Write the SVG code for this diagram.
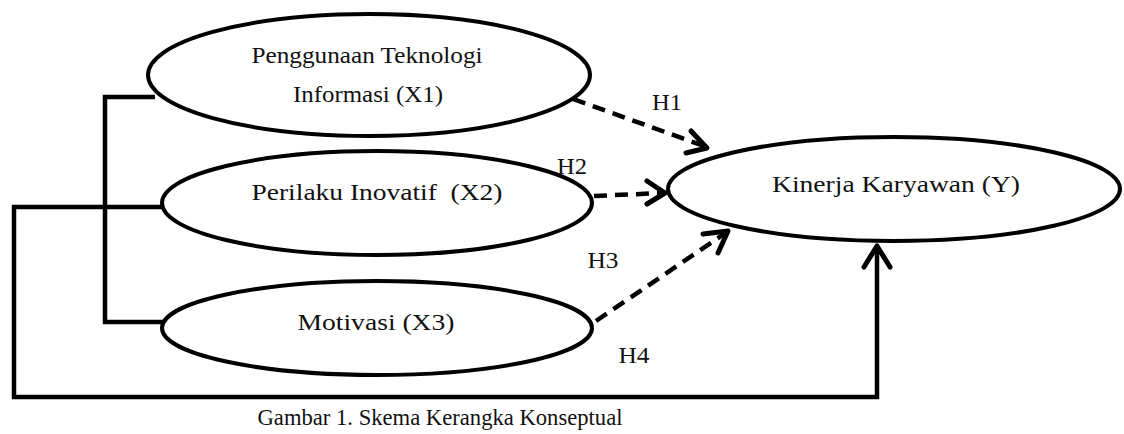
<svg xmlns="http://www.w3.org/2000/svg" width="1124" height="434" viewBox="0 0 1124 434">
<style>
.n{fill:#fff;stroke:#000;stroke-width:4}
.t{font-family:"Liberation Serif","Times New Roman",serif;font-size:24px;fill:#111;text-anchor:middle;white-space:pre}
.c{fill:none;stroke:#000;stroke-width:4.5}
.d{fill:none;stroke:#000;stroke-width:4.5;stroke-dasharray:13 8}
.h{fill:none;stroke:#000;stroke-width:5;stroke-linecap:round;stroke-linejoin:round}
</style>
<rect width="1124" height="434" fill="#fff"/>
<g id="connectors">
<polyline class="c" points="155,97 105,97 105,322 165,322"/>
<polyline class="c" points="165,207 14,207 14,397 877,397 877,246"/>
<polyline class="h" points="864,267 877,246 890,267"/>
<line class="d" x1="573" y1="99" x2="704" y2="146"/>
<polyline class="h" points="691,131 707,148 686,153"/>
<line class="d" x1="594" y1="196" x2="662" y2="193"/>
<polyline class="h" points="647,181 665,193 647,204"/>
<line class="d" x1="596" y1="321" x2="724" y2="234"/>
<polyline class="h" points="703,234 728,231 718,253"/>
</g>
<g id="x1"><ellipse class="n" cx="369" cy="75" rx="221" ry="61"/><text class="t" x="367" y="63" textLength="231" lengthAdjust="spacingAndGlyphs">Penggunaan Teknologi</text><text class="t" x="368" y="102" textLength="150" lengthAdjust="spacingAndGlyphs">Informasi (X1)</text></g>
<g id="x2"><ellipse class="n" cx="377" cy="203" rx="215" ry="52"/><text class="t" x="377" y="200" textLength="251" lengthAdjust="spacingAndGlyphs">Perilaku Inovatif  (X2)</text></g>
<g id="x3"><ellipse class="n" cx="377" cy="328" rx="215" ry="47"/><text class="t" x="376" y="330" textLength="157" lengthAdjust="spacingAndGlyphs">Motivasi (X3)</text></g>
<g id="y"><ellipse class="n" cx="894" cy="189" rx="226" ry="52"/><text class="t" x="896" y="192" textLength="248" lengthAdjust="spacingAndGlyphs">Kinerja Karyawan (Y)</text></g>
<g id="labels">
<text class="t" x="667" y="110" textLength="30" lengthAdjust="spacingAndGlyphs">H1</text>
<text class="t" x="572" y="174" textLength="30" lengthAdjust="spacingAndGlyphs">H2</text>
<text class="t" x="603" y="268" textLength="31" lengthAdjust="spacingAndGlyphs">H3</text>
<text class="t" x="634" y="363" textLength="31" lengthAdjust="spacingAndGlyphs">H4</text>
<text class="t" x="440" y="425" textLength="365" lengthAdjust="spacingAndGlyphs">Gambar 1. Skema Kerangka Konseptual</text>
</g>
</svg>
